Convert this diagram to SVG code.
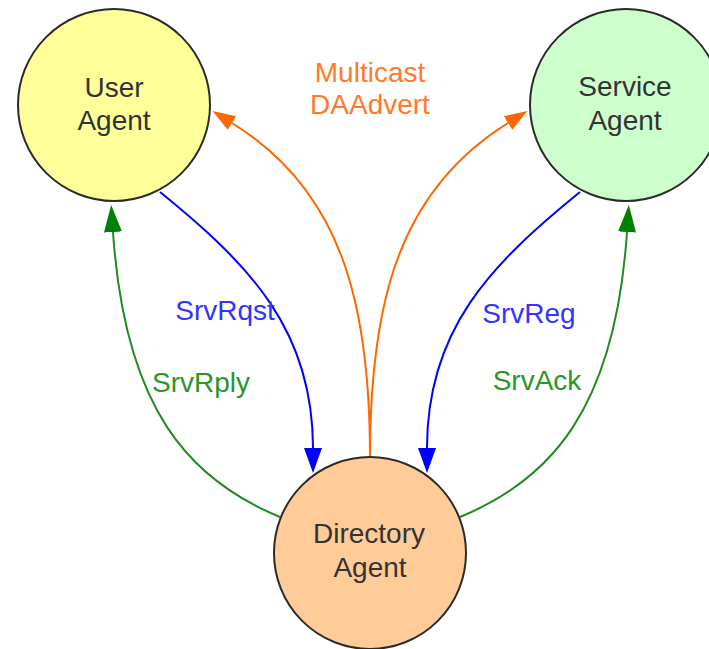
<svg xmlns="http://www.w3.org/2000/svg" width="709" height="649" viewBox="0 0 709 649">
<style>
.node{stroke:#2b2b2b;stroke-width:2}
.nt{font-family:"Liberation Sans",Arial,sans-serif;font-size:28px;fill:#333;text-anchor:middle}
.lbl{font-family:"Liberation Sans",Arial,sans-serif;font-size:28px;text-anchor:middle}
.c{fill:none;stroke-width:2}
</style>
<defs>
<marker id="ab" markerUnits="userSpaceOnUse" markerWidth="26" markerHeight="20" refX="0" refY="9" orient="auto" viewBox="0 0 26 18"><path d="M0,0 L25,9 L0,18 Z" fill="#0000FF"/></marker>
<marker id="ag" markerUnits="userSpaceOnUse" markerWidth="28" markerHeight="20" refX="0" refY="9" orient="auto" viewBox="0 0 28 18"><path d="M0,0 L27,9 L0,18 Z" fill="#008000"/></marker>
<marker id="ao" markerUnits="userSpaceOnUse" markerWidth="24" markerHeight="18" refX="0" refY="8" orient="auto" viewBox="0 0 24 16"><path d="M0,0 L23,8 L0,16 Z" fill="#FF6600"/></marker>
</defs>
<rect width="709" height="649" fill="#fff"/>
<g id="connectors">
<path class="c" stroke="#0000FF" d="M160,192 C250,265 313,330 313,448" marker-end="url(#ab)"/>
<path class="c" stroke="#0000FF" d="M580,192 C490,265 427,330 427,448" marker-end="url(#ab)"/>
<path class="c" stroke="#1E8C1E" d="M280,517 C190,480 125,410 113,232" marker-end="url(#ag)"/>
<path class="c" stroke="#1E8C1E" d="M460,517 C550,480 615,410 627,232" marker-end="url(#ag)"/>
<path class="c" stroke="#FF6600" d="M370,457 C370,300 340,190 232,123" marker-end="url(#ao)"/>
<path class="c" stroke="#FF6600" d="M370,457 C370,300 400,190 508,123" marker-end="url(#ao)"/>
<text class="lbl" fill="#3333FF" x="225" y="320">SrvRqst</text>
<text class="lbl" fill="#2A962A" x="201" y="392">SrvRply</text>
<text class="lbl" fill="#3333FF" x="529" y="323">SrvReg</text>
<text class="lbl" fill="#2A962A" x="537" y="390">SrvAck</text>
<text class="lbl" fill="#FF7A2A" x="370" y="82">Multicast</text>
<text class="lbl" fill="#FF7A2A" x="370" y="114">DAAdvert</text>
</g>
<g id="user-agent">
<circle class="node" cx="114" cy="105" r="96" fill="#FFFF99"/>
<text class="nt" x="114" y="97">User</text>
<text class="nt" x="114" y="130">Agent</text>
</g>
<g id="service-agent">
<circle class="node" cx="626" cy="105" r="96" fill="#CCFFCC"/>
<text class="nt" x="625" y="96">Service</text>
<text class="nt" x="625" y="130">Agent</text>
</g>
<g id="directory-agent">
<circle class="node" cx="370" cy="553" r="96" fill="#FFCC99"/>
<text class="nt" x="369" y="543">Directory</text>
<text class="nt" x="370" y="577">Agent</text>
</g>
</svg>
